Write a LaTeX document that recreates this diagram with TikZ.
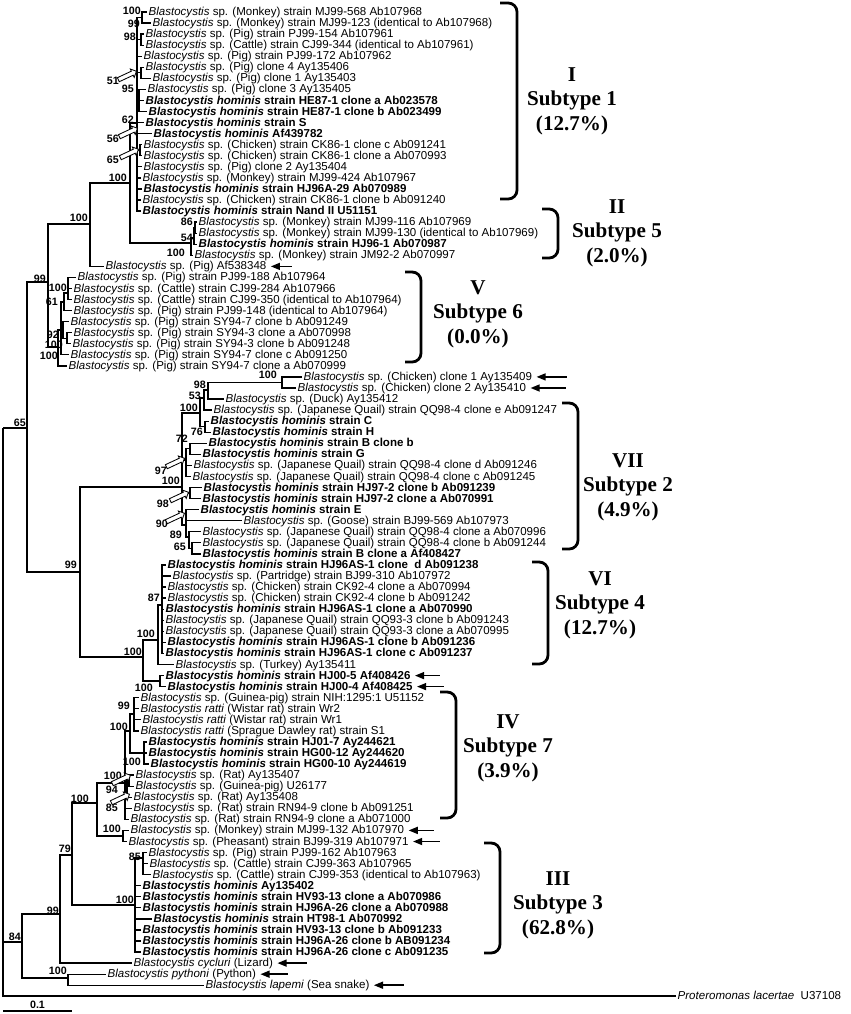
\documentclass[tikz,border=0pt]{standalone}
\usepackage{fontspec}
\setmainfont{Liberation Serif}
\setsansfont{Liberation Sans}
\usetikzlibrary{arrows.meta}
\usetikzlibrary{shapes.arrows}
\newcommand{\Bsp}{\textit{Blastocystis} sp.}
\newcommand{\Bh}{\textit{Blastocystis hominis}}
\tikzset{
  branch/.style = {line width=0.9pt},
  leaf/.style = {anchor=west, inner xsep=1pt, inner ysep=0pt,
    text height=1.55ex, text depth=0.45ex,
    font=\sffamily\fontsize{8.2}{9}\selectfont},% sequence
  hleaf/.style = {leaf, font=\sffamily\bfseries\fontsize{8.2}{9}\selectfont},% human isolate
  boot/.style = {anchor=east, inner sep=0pt,
    font=\sffamily\bfseries\fontsize{7.6}{8}\selectfont},% bootstrap value
  openarrow/.style = {single arrow, draw, fill=white, line width=0.6pt,
    minimum height=0.5cm, inner xsep=0pt, inner ysep=0.045cm,
    single arrow head extend=0.06cm, anchor=tip, rotate=25},% hollow pointer to a node
  pointer/.style = {{Triangle[length=6.5pt,width=5pt]}-, line width=1.1pt,
    shorten <=2pt},% arrow to a single sequence
  clade/.style = {line width=2pt, rounded corners=0.22cm},
  cladename/.style = {align=center,
    font=\bfseries\fontsize{15}{17.4}\selectfont}
}
\begin{document}
\begin{tikzpicture}[x=0.025cm, y=-0.025cm]
  \useasboundingbox (0,0) rectangle (850,1014);
  % subtype 1
  \node[leaf] (L1) at (147,12.0) {\Bsp{} (Monkey) strain MJ99-568 Ab107968};
  \node[leaf] (L2) at (151,23.1) {\Bsp{} (Monkey) strain MJ99-123 (identical to Ab107968)};
  \node[leaf] (L3) at (144,34.1) {\Bsp{} (Pig) strain PJ99-154 Ab107961};
  \node[leaf] (L4) at (144,45.2) {\Bsp{} (Cattle) strain CJ99-344 (identical to Ab107961)};
  \node[leaf] (L5) at (142,56.2) {\Bsp{} (Pig) strain PJ99-172 Ab107962};
  \node[leaf] (L6) at (144,67.3) {\Bsp{} (Pig) clone 4 Ay135406};
  \node[leaf] (L7) at (151,78.4) {\Bsp{} (Pig) clone 1 Ay135403};
  \node[leaf] (L8) at (146,89.4) {\Bsp{} (Pig) clone 3 Ay135405};
  \node[hleaf] (L9) at (144,100.5) {\Bh{} strain HE87-1 clone a Ab023578};
  \node[hleaf] (L10) at (147,111.5) {\Bh{} strain HE87-1 clone b Ab023499};
  \node[hleaf] (L11) at (144,122.6) {\Bh{} strain S};
  \node[hleaf] (L12) at (152,133.7) {\Bh{} Af439782};
  \node[leaf] (L13) at (142,144.7) {\Bsp{} (Chicken) strain CK86-1 clone c Ab091241};
  \node[leaf] (L14) at (142,155.8) {\Bsp{} (Chicken) strain CK86-1 clone a Ab070993};
  \node[leaf] (L15) at (142,166.8) {\Bsp{} (Pig) clone 2 Ay135404};
  \node[leaf] (L16) at (141,177.9) {\Bsp{} (Monkey) strain MJ99-424 Ab107967};
  \node[hleaf] (L17) at (142,188.9) {\Bh{} strain HJ96A-29 Ab070989};
  \node[leaf] (L18) at (141,200.0) {\Bsp{} (Chicken) strain CK86-1 clone b Ab091240};
  \node[hleaf] (L19) at (141,211.1) {\Bh{} strain Nand II U51151};
  % subtype 5
  \node[leaf] (L20) at (197,222.1) {\Bsp{} (Monkey) strain MJ99-116 Ab107969};
  \node[leaf] (L21) at (197,233.2) {\Bsp{} (Monkey) strain MJ99-130 (identical to Ab107969)};
  \node[hleaf] (L22) at (197,244.2) {\Bh{} strain HJ96-1 Ab070987};
  \node[leaf] (L23) at (193,255.3) {\Bsp{} (Monkey) strain JM92-2 Ab070997};
  \node[leaf] (L24) at (104,266.4) {\Bsp{} (Pig) Af538348};
  % subtype 6
  \node[leaf] (L25) at (76,277.4) {\Bsp{} (Pig) strain PJ99-188 Ab107964};
  \node[leaf] (L26) at (72,288.5) {\Bsp{} (Cattle) strain CJ99-284 Ab107966};
  \node[leaf] (L27) at (72,299.5) {\Bsp{} (Cattle) strain CJ99-350 (identical to Ab107964)};
  \node[leaf] (L28) at (72,310.6) {\Bsp{} (Pig) strain PJ99-148 (identical to Ab107964)};
  \node[leaf] (L29) at (69,321.6) {\Bsp{} (Pig) strain SY94-7 clone b Ab091249};
  \node[leaf] (L30) at (72,332.7) {\Bsp{} (Pig) strain SY94-3 clone a Ab070998};
  \node[leaf] (L31) at (71,343.8) {\Bsp{} (Pig) strain SY94-3 clone b Ab091248};
  \node[leaf] (L32) at (69,354.8) {\Bsp{} (Pig) strain SY94-7 clone c Ab091250};
  \node[leaf] (L33) at (67,365.9) {\Bsp{} (Pig) strain SY94-7 clone a Ab070999};
  % subtype 2
  \node[leaf] (L34) at (302,376.9) {\Bsp{} (Chicken) clone 1 Ay135409};
  \node[leaf] (L35) at (296,388.0) {\Bsp{} (Chicken) clone 2 Ay135410};
  \node[leaf] (L36) at (224,399.1) {\Bsp{} (Duck) Ay135412};
  \node[leaf] (L37) at (212,410.1) {\Bsp{} (Japanese Quail) strain QQ98-4 clone e Ab091247};
  \node[hleaf] (L38) at (209,421.2) {\Bh{} strain C};
  \node[hleaf] (L39) at (211,432.2) {\Bh{} strain H};
  \node[hleaf] (L40) at (207,443.3) {\Bh{} strain B clone b};
  \node[hleaf] (L41) at (201,454.4) {\Bh{} strain G};
  \node[leaf] (L42) at (192,465.4) {\Bsp{} (Japanese Quail) strain QQ98-4 clone d Ab091246};
  \node[leaf] (L43) at (191,476.5) {\Bsp{} (Japanese Quail) strain QQ98-4 clone c Ab091245};
  \node[hleaf] (L44) at (202,487.5) {\Bh{} strain HJ97-2 clone b Ab091239};
  \node[hleaf] (L45) at (201,498.6) {\Bh{} strain HJ97-2 clone a Ab070991};
  \node[hleaf] (L46) at (199,509.7) {\Bh{} strain E};
  \node[leaf] (L47) at (242,520.7) {\Bsp{} (Goose) strain BJ99-569 Ab107973};
  \node[leaf] (L48) at (201,531.8) {\Bsp{} (Japanese Quail) strain QQ98-4 clone a Ab070996};
  \node[leaf] (L49) at (201,542.8) {\Bsp{} (Japanese Quail) strain QQ98-4 clone b Ab091244};
  \node[hleaf] (L50) at (201,553.9) {\Bh{} strain B clone a Af408427};
  % subtype 4
  \node[hleaf] (L51) at (166,565.0) {\Bh{} strain HJ96AS-1 clone\ \ d Ab091238};
  \node[leaf] (L52) at (171,576.0) {\Bsp{} (Partridge) strain BJ99-310 Ab107972};
  \node[leaf] (L53) at (166,587.1) {\Bsp{} (Chicken) strain CK92-4 clone a Ab070994};
  \node[leaf] (L54) at (166,598.1) {\Bsp{} (Chicken) strain CK92-4 clone b Ab091242};
  \node[hleaf] (L55) at (164,609.2) {\Bh{} strain HJ96AS-1 clone a Ab070990};
  \node[leaf] (L56) at (164,620.3) {\Bsp{} (Japanese Quail) strain QQ93-3 clone b Ab091243};
  \node[leaf] (L57) at (164,631.3) {\Bsp{} (Japanese Quail) strain QQ93-3 clone a Ab070995};
  \node[hleaf] (L58) at (166,642.4) {\Bh{} strain HJ96AS-1 clone b Ab091236};
  \node[hleaf] (L59) at (164,653.4) {\Bh{} strain HJ96AS-1 clone c Ab091237};
  \node[leaf] (L60) at (174,664.5) {\Bsp{} (Turkey) Ay135411};
  \node[hleaf] (L61) at (164,675.6) {\Bh{} strain HJ00-5 Af408426};
  \node[hleaf] (L62) at (166,686.6) {\Bh{} strain HJ00-4 Af408425};
  % subtype 7
  \node[leaf] (L63) at (139,697.7) {\Bsp{} (Guinea-pig) strain NIH:1295:1 U51152};
  \node[leaf] (L64) at (139,708.7) {\textit{Blastocystis ratti} (Wistar rat) strain Wr2};
  \node[leaf] (L65) at (141,719.8) {\textit{Blastocystis ratti} (Wistar rat) strain Wr1};
  \node[leaf] (L66) at (139,730.9) {\textit{Blastocystis ratti} (Sprague Dawley rat) strain S1};
  \node[hleaf] (L67) at (147,741.9) {\Bh{} strain HJ01-7 Ay244621};
  \node[hleaf] (L68) at (147,753.0) {\Bh{} strain HG00-12 Ay244620};
  \node[hleaf] (L69) at (149,764.0) {\Bh{} strain HG00-10 Ay244619};
  \node[leaf] (L70) at (134,775.1) {\Bsp{} (Rat) Ay135407};
  \node[leaf] (L71) at (134,786.2) {\Bsp{} (Guinea-pig) U26177};
  \node[leaf] (L72) at (132,797.2) {\Bsp{} (Rat) Ay135408};
  \node[leaf] (L73) at (132,808.3) {\Bsp{} (Rat) strain RN94-9 clone b Ab091251};
  \node[leaf] (L74) at (129,819.3) {\Bsp{} (Rat) strain RN94-9 clone a Ab071000};
  \node[leaf] (L75) at (129,830.4) {\Bsp{} (Monkey) strain MJ99-132 Ab107970};
  \node[leaf] (L76) at (127,841.5) {\Bsp{} (Pheasant) strain BJ99-319 Ab107971};
  % subtype 3
  \node[leaf] (L77) at (147,852.5) {\Bsp{} (Pig) strain PJ99-162 Ab107963};
  \node[leaf] (L78) at (148,863.6) {\Bsp{} (Cattle) strain CJ99-363 Ab107965};
  \node[leaf] (L79) at (151,874.6) {\Bsp{} (Cattle) strain CJ99-353 (identical to Ab107963)};
  \node[hleaf] (L80) at (141,885.7) {\Bh{} Ay135402};
  \node[hleaf] (L81) at (141,896.8) {\Bh{} strain HV93-13 clone a Ab070986};
  \node[hleaf] (L82) at (141,907.8) {\Bh{} strain HJ96A-26 clone a Ab070988};
  \node[hleaf] (L83) at (152,918.9) {\Bh{} strain HT98-1 Ab070992};
  \node[hleaf] (L84) at (141,929.9) {\Bh{} strain HV93-13 clone b Ab091233};
  \node[hleaf] (L85) at (141,941.0) {\Bh{} strain HJ96A-26 clone b AB091234};
  \node[hleaf] (L86) at (141,952.1) {\Bh{} strain HJ96A-26 clone c Ab091235};
  % reptiles and outgroup
  \node[leaf] (L87) at (132,963.1) {\textit{Blastocystis cycluri} (Lizard)};
  \node[leaf] (L88) at (106,974.2) {\textit{Blastocystis pythoni} (Python)};
  \node[leaf] (L89) at (204,985.2) {\textit{Blastocystis lapemi} (Sea snake)};
  \node[leaf] (L90) at (676,996.0) {\textit{Proteromonas lacertae}\ \ U37108};

  % internal nodes
  \coordinate (root) at (3,428);
  \coordinate (N65) at (27,428);
  \coordinate (N99a) at (48,282);
  \coordinate (N100top) at (90,224);
  \coordinate (N100st) at (130,183);
  \coordinate (NST1) at (137,123);
  \coordinate (N1a) at (142,17.5);
  \coordinate (N1b) at (141,39.6);
  \coordinate (N1c) at (141,72.8);
  \coordinate (N1d) at (139,100.5);
  \coordinate (N1e) at (140,150.2);
  \coordinate (NST5) at (191,243);
  \coordinate (N54) at (194,238);
  \coordinate (N86) at (195,227.6);
  \coordinate (N6a) at (58,347);
  \coordinate (N6b) at (61,330);
  \coordinate (N61) at (64,302);
  \coordinate (N100g) at (68,293);
  \coordinate (N92) at (63,330);
  \coordinate (N100h) at (67,338.2);
  \coordinate (N99c) at (80,572);
  \coordinate (NST2) at (182,487);
  \coordinate (N100d) at (200,413);
  \coordinate (N53) at (204,398);
  \coordinate (N98) at (208,390);
  \coordinate (Nchk) at (282,382.4);
  \coordinate (N76) at (205,426.7);
  \coordinate (N97) at (186,460);
  \coordinate (N72) at (190,448.8);
  \coordinate (N98b) at (190,493);
  \coordinate (N90) at (186,525);
  \coordinate (N89) at (189,537);
  \coordinate (N65s) at (192,548.3);
  \coordinate (NST4r) at (143,657);
  \coordinate (NST4) at (158,640);
  \coordinate (N87) at (162,605);
  \coordinate (Nhj) at (160,681);
  \coordinate (N84) at (22,942);
  \coordinate (N99) at (60,914);
  \coordinate (N79) at (72,855);
  \coordinate (N100a) at (97,803);
  \coordinate (N100b) at (125,783);
  \coordinate (N100c) at (130,731);
  \coordinate (N99r) at (134,714);
  \coordinate (Nhg) at (144,753);
  \coordinate (N85r) at (127,789);
  \coordinate (N94) at (129,780.6);
  \coordinate (NMJ) at (123,836);
  \coordinate (NST3) at (135,905);
  \coordinate (N85s) at (143,858);
  \coordinate (Npy) at (68,978);

  % branches
  \draw[branch] (root) |- (N65) (root) |- (N84) (root) |- (L90.west);
  \draw[branch] (N65) |- (N99a) (N65) |- (N99c);
  \draw[branch] (N99a) |- (N100top) (N99a) |- (N6a);
  \draw[branch] (N100top) |- (N100st) (N100top) |- (L24.west);
  \draw[branch] (N100st) |- (NST1) (N100st) |- (NST5);
  \draw[branch] (NST1) |- (N1a) (NST1) |- (N1b) (NST1) |- (N1c) (NST1) |- (N1d)
    (NST1) |- (N1e);
  \foreach \k in {5,11,12,15,16,17,18,19}
    \draw[branch] (NST1) |- (L\k.west);
  \draw[branch] (N1a) |- (L1.west) (N1a) |- (L2.west);
  \draw[branch] (N1b) |- (L3.west) (N1b) |- (L4.west);
  \draw[branch] (N1c) |- (L6.west) (N1c) |- (L7.west);
  \draw[branch] (N1d) |- (L8.west) (N1d) |- (L9.west) (N1d) |- (L10.west);
  \draw[branch] (N1e) |- (L13.west) (N1e) |- (L14.west);
  \draw[branch] (NST5) |- (N54) (NST5) |- (L23.west);
  \draw[branch] (N54) |- (N86) (N54) |- (L22.west);
  \draw[branch] (N86) |- (L20.west) (N86) |- (L21.west);
  \draw[branch] (N6a) |- (N6b) (N6a) |- (L33.west);
  \draw[branch] (N6b) |- (N61) (N6b) |- (N92) (N6b) |- (L32.west);
  \draw[branch] (N61) |- (N100g) (N61) |- (L28.west);
  \draw[branch] (N100g) |- (L25.west) (N100g) |- (L26.west) (N100g) |- (L27.west);
  \draw[branch] (N92) |- (L29.west) (N92) |- (N100h);
  \draw[branch] (N100h) |- (L30.west) (N100h) |- (L31.west);
  \draw[branch] (N99c) |- (NST2) (N99c) |- (NST4r);
  \draw[branch] (NST2) |- (N100d) (NST2) |- (N97) (NST2) |- (N98b) (NST2) |- (N90);
  \draw[branch] (N100d) |- (N53) (N100d) |- (N76);
  \draw[branch] (N53) |- (N98) (N53) |- (L37.west);
  \draw[branch] (N98) |- (Nchk) (N98) |- (L36.west);
  \draw[branch] (Nchk) |- (L34.west) (Nchk) |- (L35.west);
  \draw[branch] (N76) |- (L38.west) (N76) |- (L39.west);
  \draw[branch] (N97) |- (N72) (N97) |- (L42.west) (N97) |- (L43.west);
  \draw[branch] (N72) |- (L40.west) (N72) |- (L41.west);
  \draw[branch] (N98b) |- (L44.west) (N98b) |- (L45.west);
  \draw[branch] (N90) |- (L46.west) (N90) |- (L47.west) (N90) |- (N89);
  \draw[branch] (N89) |- (L48.west) (N89) |- (N65s);
  \draw[branch] (N65s) |- (L49.west) (N65s) |- (L50.west);
  \draw[branch] (NST4r) |- (NST4) (NST4r) |- (Nhj);
  \draw[branch] (NST4) |- (N87) (NST4) |- (L60.west);
  \foreach \k in {51,...,59}
    \draw[branch] (N87) |- (L\k.west);
  \draw[branch] (Nhj) |- (L61.west) (Nhj) |- (L62.west);
  \draw[branch] (N84) |- (N99) (N84) |- (Npy);
  \draw[branch] (N99) |- (N79) (N99) |- (L87.west);
  \draw[branch] (N79) |- (N100a) (N79) |- (NST3);
  \draw[branch] (N100a) |- (N100b) (N100a) |- (NMJ);
  \draw[branch] (N100b) |- (N100c) (N100b) |- (N85r) (N100b) |- (L73.west)
    (N100b) |- (L74.west);
  \draw[branch] (N100c) |- (N99r) (N100c) |- (Nhg);
  \foreach \k in {63,...,66}
    \draw[branch] (N99r) |- (L\k.west);
  \foreach \k in {67,68,69}
    \draw[branch] (Nhg) |- (L\k.west);
  \draw[branch] (N85r) |- (N94) (N85r) |- (L72.west);
  \draw[branch] (N94) |- (L70.west) (N94) |- (L71.west);
  \draw[branch] (NMJ) |- (L75.west) (NMJ) |- (L76.west);
  \draw[branch] (NST3) |- (N85s);
  \foreach \k in {80,...,86}
    \draw[branch] (NST3) |- (L\k.west);
  \draw[branch] (N85s) |- (L77.west) (N85s) |- (L78.west) (N85s) |- (L79.west);
  \draw[branch] (Npy) |- (L88.west) (Npy) |- (L89.west);

  % bootstrap values
  \node[boot] (b1) at (141,11) {100};
  \node[boot] (b2) at (140,24) {99};
  \node[boot] (b3) at (136,37) {98};
  \node[boot] (b4) at (119,81) {51};
  \node[boot] (b5) at (134,89) {95};
  \node[boot] (b6) at (134,120) {62};
  \node[boot] (b7) at (119,139) {56};
  \node[boot] (b8) at (119,160) {65};
  \node[boot] (b9) at (127,178) {100};
  \node[boot] (b10) at (88,218) {100};
  \node[boot] (b11) at (46,279) {99};
  \node[boot] (b12) at (193,222) {86};
  \node[boot] (b13) at (193,238) {54};
  \node[boot] (b14) at (185,253) {100};
  \node[boot] (b15) at (67,288) {100};
  \node[boot] (b16) at (58,302) {61};
  \node[boot] (b17) at (59,335) {92};
  \node[boot] (b18) at (63,345) {100};
  \node[boot] (b19) at (58,356) {100};
  \node[boot] (b20) at (26,423) {65};
  \node[boot] (b21) at (277,375) {100};
  \node[boot] (b22) at (206,385) {98};
  \node[boot] (b23) at (201,396) {53};
  \node[boot] (b24) at (198,408) {100};
  \node[boot] (b25) at (203,432) {76};
  \node[boot] (b26) at (188,439) {72};
  \node[boot] (b27) at (167,471) {97};
  \node[boot] (b28) at (180,481) {100};
  \node[boot] (b29) at (169,504) {98};
  \node[boot] (b30) at (168,524) {90};
  \node[boot] (b31) at (182,535) {89};
  \node[boot] (b32) at (186,547) {65};
  \node[boot] (b33) at (77,565) {99};
  \node[boot] (b34) at (160,598) {87};
  \node[boot] (b35) at (155,634) {100};
  \node[boot] (b36) at (142,652) {100};
  \node[boot] (b37) at (153,688) {100};
  \node[boot] (b38) at (130,706) {99};
  \node[boot] (b39) at (128,727) {100};
  \node[boot] (b40) at (141,762) {100};
  \node[boot] (b41) at (122,776) {100};
  \node[boot] (b42) at (118,790) {94};
  \node[boot] (b43) at (118,808) {85};
  \node[boot] (b44) at (89,799) {100};
  \node[boot] (b45) at (121,829) {100};
  \node[boot] (b46) at (71,849) {79};
  \node[boot] (b47) at (141,857) {85};
  \node[boot] (b48) at (134,900) {100};
  \node[boot] (b49) at (59,911) {99};
  \node[boot] (b50) at (21,937) {84};
  \node[boot] (b51) at (67,971) {100};

  % hollow arrows to hidden nodes
  \node[openarrow] (o51) at (137,71) {};
  \node[openarrow] (o56) at (138,128) {};
  \node[openarrow] (o65) at (139,149) {};
  \node[openarrow] (o97) at (185,458) {};
  \node[openarrow] (o98) at (189,492) {};
  \node[openarrow] (o90) at (185,513) {};
  \node[openarrow] (o94) at (131,775) {};
  \node[openarrow] (o85) at (130,794) {};

  % arrows to single sequences
  \draw[pointer] (L24.east) -- ++(24,0);
  \draw[pointer] (L34.east) -- ++(33,0);
  \draw[pointer] (L35.east) -- ++(38,0);
  \draw[pointer] (L61.east) -- ++(28,0);
  \draw[pointer] (L62.east) -- ++(30,0);
  \draw[pointer] (L75.east) -- ++(28,0);
  \draw[pointer] (L76.east) -- ++(30,0);
  \draw[pointer] (L87.east) -- ++(32,0);
  \draw[pointer] (L88.east) -- ++(30,0);
  \draw[pointer] (L89.east) -- ++(33,0);

  % subtype brackets
  \draw[clade] (500,3) -- (517,3) -- (517,199) -- (500,199);
  \node[cladename] (st1) at (572,101) {I\\Subtype 1\\(12.7\%)};
  \draw[clade] (542,209) -- (558,209) -- (558,258) -- (542,258);
  \node[cladename] (st5) at (617,233) {II\\Subtype 5\\(2.0\%)};
  \draw[clade] (405,272) -- (421,272) -- (421,362) -- (405,362);
  \node[cladename] (st6) at (478,314) {V\\Subtype 6\\(0.0\%)};
  \draw[clade] (562,403) -- (578,403) -- (578,549) -- (562,549);
  \node[cladename] (st2) at (628,487) {VII\\Subtype 2\\(4.9\%)};
  \draw[clade] (532,562) -- (548,562) -- (548,664) -- (532,664);
  \node[cladename] (st4) at (600,605) {VI\\Subtype 4\\(12.7\%)};
  \draw[clade] (440,692) -- (456,692) -- (456,818) -- (440,818);
  \node[cladename] (st7) at (508,748) {IV\\Subtype 7\\(3.9\%)};
  \draw[clade] (484,843) -- (500,843) -- (500,953) -- (484,953);
  \node[cladename] (st3) at (558,905) {III\\Subtype 3\\(62.8\%)};

  % scale bar
  \coordinate (sbL) at (3,1011);
  \coordinate (sbR) at (72,1011);
  \draw[line width=1.1pt] (sbL) -- node[above=1pt, inner sep=0pt,
    font=\sffamily\bfseries\fontsize{7.6}{8}\selectfont] (sb) {0.1} (sbR);
\end{tikzpicture}
\end{document}
